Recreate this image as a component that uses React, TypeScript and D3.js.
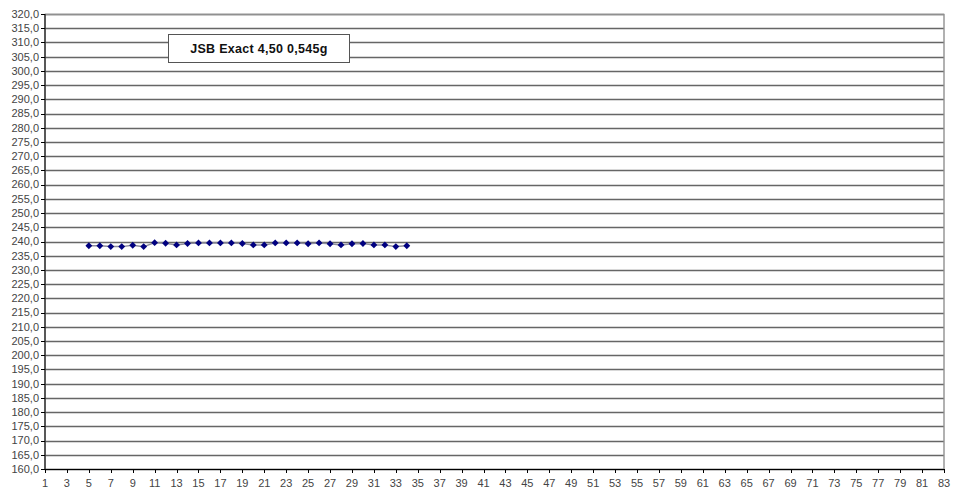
import React from "react";
import * as d3 from "d3";

// shot numbers (x) and velocities in m/s (y)
const shots: number[] = [
  5, 6, 7, 8, 9, 10, 11, 12, 13, 14, 15, 16, 17, 18, 19, 20, 21, 22, 23, 24, 25,
  26, 27, 28, 29, 30, 31, 32, 33, 34,
];
const velocities: number[] = [
  238.5, 238.5, 238.2, 238.2, 238.7, 238.2, 239.6, 239.4, 238.8, 239.3, 239.5,
  239.5, 239.5, 239.5, 239.3, 238.8, 238.8, 239.5, 239.5, 239.5, 239.2, 239.5,
  239.2, 238.8, 239.2, 239.3, 238.8, 238.8, 238.2, 238.5,
];
const seriesName = "JSB Exact 4,50 0,545g";
const xDomain: [number, number] = [1, 83];
const yDomain: [number, number] = [160, 320];

const width = 965;
const height = 499;
const margin = { top: 14, right: 21, bottom: 30, left: 45 };

const App: React.FC = () => {
  const x = d3
    .scaleLinear()
    .domain(xDomain)
    .range([margin.left, width - margin.right]);
  const y = d3
    .scaleLinear()
    .domain(yDomain)
    .range([height - margin.bottom, margin.top]);

  const yTicks = d3.range(yDomain[0], yDomain[1] + 0.1, 5);
  const xTicks = d3.range(xDomain[0], xDomain[1] + 1, 2);
  const fmt = (v: number) => v.toFixed(1).replace(".", ",");

  const points = shots.map((s, i) => ({ s, v: velocities[i] }));
  const line = d3
    .line<{ s: number; v: number }>()
    .x((d) => x(d.s))
    .y((d) => y(d.v));

  const x0 = x(xDomain[0]);
  const x1 = x(xDomain[1]);
  const y0 = y(yDomain[0]);
  const y1 = y(yDomain[1]);
  const font = "Arial, 'Liberation Sans', sans-serif";
  const marker = d3.symbol(d3.symbolDiamond2, 30)() ?? "";

  return (
    <svg
      width={width}
      height={height}
      style={{ position: "absolute", left: 0, top: 0, background: "#fff" }}
      fontFamily={font}
    >
      <rect x={0} y={0} width={width} height={height} fill="#fff" />
      {/* grid */}
      {yTicks.map((t) => (
        <line
          key={t}
          x1={x0}
          x2={x1}
          y1={Math.round(y(t)) + 0.5}
          y2={Math.round(y(t)) + 0.5}
          stroke="#666"
          strokeWidth={1.4}
        />
      ))}
      <rect
        x={x0}
        y={Math.round(y1) + 0.5}
        width={x1 - x0}
        height={y0 - y1}
        fill="none"
        stroke="#909090"
        strokeWidth={1.4}
      />
      {/* axes */}
      <line x1={x0} x2={x0} y1={y1} y2={y0} stroke="#000" />
      <line x1={x0} x2={x1} y1={y0 + 0.5} y2={y0 + 0.5} stroke="#000" />
      {yTicks.map((t) => (
        <g key={t}>
          <line
            x1={x0 - 4}
            x2={x0}
            y1={Math.round(y(t)) + 0.5}
            y2={Math.round(y(t)) + 0.5}
            stroke="#000"
          />
          <text
            x={x0 - 6}
            y={y(t)}
            dy="0.35em"
            textAnchor="end"
            fontSize={11}
            fill="#444"
          >
            {fmt(t)}
          </text>
        </g>
      ))}
      {xTicks.map((t) => (
        <g key={t}>
          <line
            x1={Math.round(x(t)) + 0.5}
            x2={Math.round(x(t)) + 0.5}
            y1={y0}
            y2={y0 + 4}
            stroke="#000"
          />
          <text
            x={x(t)}
            y={y0 + 18}
            textAnchor="middle"
            fontSize={11}
            fill="#444"
          >
            {t}
          </text>
        </g>
      ))}
      {/* series */}
      <path d={line(points) ?? ""} fill="none" stroke="#8c8c9c" strokeWidth={1.5} />
      {points.map((p) => (
        <path
          key={p.s}
          d={marker}
          transform={`translate(${x(p.s)},${y(p.v)})`}
          fill="#000080"
        />
      ))}
      {/* legend */}
      <rect
        x={168.5}
        y={34.5}
        width={181}
        height={28}
        fill="#fff"
        stroke="#555"
      />
      <text
        x={259}
        y={49}
        dy="0.35em"
        textAnchor="middle"
        fontSize={12.5}
        fontWeight="bold"
        fill="#111"
        letterSpacing={0.3}
      >
        {seriesName}
      </text>
    </svg>
  );
};

export default App;
